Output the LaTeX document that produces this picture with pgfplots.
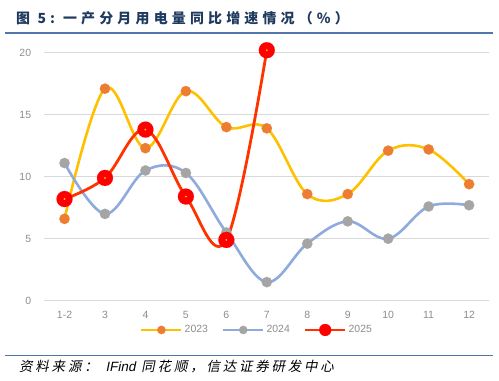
\documentclass[border=0pt]{standalone}
\usepackage{fontspec}
\usepackage{pgfplots}
\pgfplotsset{compat=1.18}
\setmainfont{Liberation Sans}
\newfontfamily\cjktitle[LetterSpace=30]{Noto Sans CJK SC}
\newfontfamily\cjkfoot[FakeSlant=0.2,LetterSpace=21]{Noto Sans CJK SC}
\definecolor{titleblue}{HTML}{1F3A5F}
\definecolor{rulecol}{HTML}{4F77AA}
\definecolor{gridcol}{HTML}{D9D9D9}
\definecolor{tickcol}{HTML}{8C8C8C}
\definecolor{lineA}{HTML}{FFC000}
\definecolor{markA}{HTML}{ED7D31}
\definecolor{lineB}{HTML}{8FAADC}
\definecolor{markB}{HTML}{A5A5A5}
\definecolor{lineC}{HTML}{FF3300}
\definecolor{markC}{HTML}{FF0000}
\definecolor{dotC}{HTML}{FFD700}
\pgfplotstableread{
x y
0 6.6
1 17.1
2 12.3
3 16.9
4 14.0
5 13.9
6 8.6
7 8.6
8 12.1
9 12.2
10 9.4
}\dataA
\pgfplotstableread{
x y
0 11.1
1 7.0
2 10.5
3 10.3
4 5.5
5 1.5
6 4.6
7 6.4
8 5.0
9 7.6
10 7.7
}\dataB
\pgfplotstableread{
x y
0 8.2
1 9.9
2 13.8
3 8.4
4 4.9
5 20.2
}\dataC
\begin{document}
\begin{tikzpicture}
\path[use as bounding box] (0bp,0bp) rectangle (499bp,381bp);
\node[anchor=west, text=titleblue, font=\cjktitle\bfseries\fontsize{14}{16}\selectfont, inner sep=0] at (16bp,363bp) {图 5:\hspace{8bp}一产分月用电量同比增速情况（\%）};
\draw[rulecol, line width=1.6bp] (5bp,348bp) -- (493bp,348bp);
\draw[rulecol, line width=1.6bp] (5bp,25.3bp) -- (493bp,25.3bp);
\node[anchor=west, text=black, font=\cjkfoot\fontsize{13.5}{15}\selectfont, inner sep=0] at (19bp,14bp) {资料来源：\hspace{8bp}{\fontspec{Liberation Sans}[FakeSlant=0.2]IFind} 同花顺，信达证券研发中心};
\begin{axis}[
  at={(44.3bp,80.3bp)}, anchor=south west,
  scale only axis, width=445bp, height=248bp,
  xmin=-0.5, xmax=10.5, ymin=0, ymax=20,
  clip=false,
  axis line style={draw=none},
  major tick length=0pt,
  ymajorgrids, grid style={gridcol, line width=1.2bp},
  ytick={0,5,10,15,20},
  xtick={0,1,2,3,4,5,6,7,8,9,10},
  xticklabels={1-2,3,4,5,6,7,8,9,10,11,12},
  tick label style={font=\fontsize{10.5}{12}\selectfont, text=tickcol},
  yticklabel style={anchor=east, inner sep=0pt, xshift=-13bp},
  xticklabel style={anchor=base, inner sep=0pt, yshift=-17.3bp},
  /pgf/number format/assume math mode=true,
  legend columns=3,
  legend style={at={(0.478,-0.118)}, anchor=center, draw=none, fill=none,
    font=\fontsize{10.5}{12}\selectfont, text=tickcol,
    /tikz/every even column/.append style={column sep=12bp}},
  legend image code/.code={\draw[#1] (0bp,0bp) -- (40bp,0bp); \draw[#1] plot[sharp plot] coordinates {(20bp,0bp)};},
]
% lines
\addplot[smooth, tension=0.6, line width=2.6bp, color=lineA, no markers, forget plot] table[x=x,y=y] {\dataA};
\addplot[smooth, tension=0.6, line width=2.6bp, color=lineB, no markers, forget plot] table[x=x,y=y] {\dataB};
% marks
\addplot[only marks, mark=*, mark size=5.2bp, mark options={fill=markA, draw=markA, line width=0.1bp}, forget plot] table[x=x,y=y] {\dataA};
\addplot[only marks, mark=*, mark size=5.2bp, mark options={fill=markB, draw=markB, line width=0.1bp}, forget plot] table[x=x,y=y] {\dataB};
\addplot[smooth, tension=0.6, line width=2.8bp, color=lineC, no markers, forget plot] table[x=x,y=y] {\dataC};
\addplot[only marks, mark=*, mark size=8bp, mark options={fill=markC, draw=markC, line width=0.1bp}, forget plot] table[x=x,y=y] {\dataC};
\addplot[only marks, mark=*, mark size=0.8bp, mark options={fill=dotC, draw=dotC, line width=0.1bp}, forget plot] table[x=x,y=y] {\dataC};
% legend
\addlegendimage{line width=2.6bp, color=lineA, mark=*, mark size=4.2bp, mark options={fill=markA, draw=markA, line width=0.1bp}}
\addlegendentry{2023}
\addlegendimage{line width=2.6bp, color=lineB, mark=*, mark size=4.2bp, mark options={fill=markB, draw=markB, line width=0.1bp}}
\addlegendentry{2024}
\addlegendimage{line width=2.8bp, color=lineC, mark=*, mark size=6bp, mark options={fill=markC, draw=markC, line width=0.1bp}}
\addlegendentry{2025}
\end{axis}
\end{tikzpicture}
\end{document}
